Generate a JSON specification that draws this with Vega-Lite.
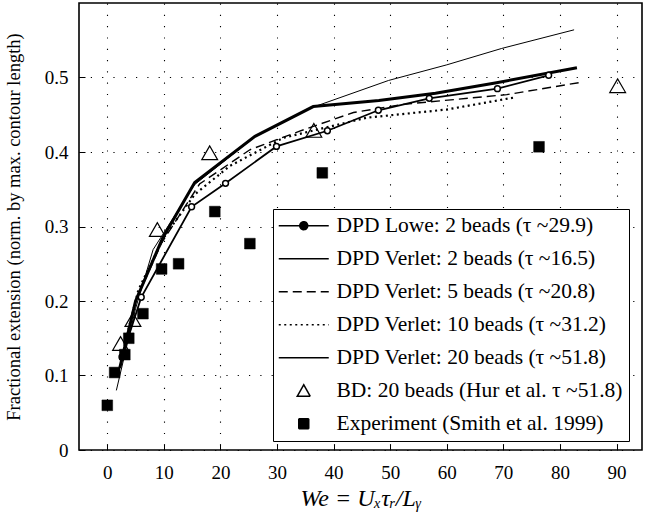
{
  "$schema": "https://vega.github.io/schema/vega-lite/v6.json",
  "width": 563,
  "height": 447,
  "autosize": "none",
  "padding": {"left": 79, "top": 3, "right": 8, "bottom": 65},
  "background": "white",
  "config": {
    "font": "Liberation Serif",
    "view": {"stroke": "black", "strokeWidth": 1.6}
  },
  "datasets": {
    "curves": [
      {"series": "DPD Lowe: 2 beads (τ ~29.9)", "x": 2.6, "y": 0.125},
      {"series": "DPD Lowe: 2 beads (τ ~29.9)", "x": 6.0, "y": 0.205},
      {"series": "DPD Lowe: 2 beads (τ ~29.9)", "x": 14.9, "y": 0.3265},
      {"series": "DPD Lowe: 2 beads (τ ~29.9)", "x": 20.9, "y": 0.358},
      {"series": "DPD Lowe: 2 beads (τ ~29.9)", "x": 29.9, "y": 0.4075},
      {"series": "DPD Lowe: 2 beads (τ ~29.9)", "x": 38.9, "y": 0.4285},
      {"series": "DPD Lowe: 2 beads (τ ~29.9)", "x": 47.9, "y": 0.456},
      {"series": "DPD Lowe: 2 beads (τ ~29.9)", "x": 56.9, "y": 0.472},
      {"series": "DPD Lowe: 2 beads (τ ~29.9)", "x": 68.95, "y": 0.485},
      {"series": "DPD Lowe: 2 beads (τ ~29.9)", "x": 78.0, "y": 0.503},
      {"series": "DPD Verlet: 2 beads (τ ~16.5)", "x": 1.6, "y": 0.08},
      {"series": "DPD Verlet: 2 beads (τ ~16.5)", "x": 5.0, "y": 0.19},
      {"series": "DPD Verlet: 2 beads (τ ~16.5)", "x": 8.1, "y": 0.269},
      {"series": "DPD Verlet: 2 beads (τ ~16.5)", "x": 15.4, "y": 0.356},
      {"series": "DPD Verlet: 2 beads (τ ~16.5)", "x": 26.0, "y": 0.42},
      {"series": "DPD Verlet: 2 beads (τ ~16.5)", "x": 36.3, "y": 0.46},
      {"series": "DPD Verlet: 2 beads (τ ~16.5)", "x": 49.7, "y": 0.496},
      {"series": "DPD Verlet: 2 beads (τ ~16.5)", "x": 60.0, "y": 0.517},
      {"series": "DPD Verlet: 2 beads (τ ~16.5)", "x": 69.7, "y": 0.539},
      {"series": "DPD Verlet: 2 beads (τ ~16.5)", "x": 82.5, "y": 0.564},
      {"series": "DPD Verlet: 5 beads (τ ~20.8)", "x": 2.4, "y": 0.115},
      {"series": "DPD Verlet: 5 beads (τ ~20.8)", "x": 5.0, "y": 0.2},
      {"series": "DPD Verlet: 5 beads (τ ~20.8)", "x": 9.6, "y": 0.278},
      {"series": "DPD Verlet: 5 beads (τ ~20.8)", "x": 16.3, "y": 0.357},
      {"series": "DPD Verlet: 5 beads (τ ~20.8)", "x": 25.2, "y": 0.403},
      {"series": "DPD Verlet: 5 beads (τ ~20.8)", "x": 34.0, "y": 0.428},
      {"series": "DPD Verlet: 5 beads (τ ~20.8)", "x": 43.5, "y": 0.453},
      {"series": "DPD Verlet: 5 beads (τ ~20.8)", "x": 52.3, "y": 0.464},
      {"series": "DPD Verlet: 5 beads (τ ~20.8)", "x": 70.6, "y": 0.477},
      {"series": "DPD Verlet: 5 beads (τ ~20.8)", "x": 83.3, "y": 0.493},
      {"series": "DPD Verlet: 10 beads (τ ~31.2)", "x": 3.0, "y": 0.14},
      {"series": "DPD Verlet: 10 beads (τ ~31.2)", "x": 5.5, "y": 0.215},
      {"series": "DPD Verlet: 10 beads (τ ~31.2)", "x": 10.1, "y": 0.287},
      {"series": "DPD Verlet: 10 beads (τ ~31.2)", "x": 15.45, "y": 0.343},
      {"series": "DPD Verlet: 10 beads (τ ~31.2)", "x": 21.6, "y": 0.381},
      {"series": "DPD Verlet: 10 beads (τ ~31.2)", "x": 31.1, "y": 0.419},
      {"series": "DPD Verlet: 10 beads (τ ~31.2)", "x": 45.8, "y": 0.446},
      {"series": "DPD Verlet: 10 beads (τ ~31.2)", "x": 60.0, "y": 0.457},
      {"series": "DPD Verlet: 10 beads (τ ~31.2)", "x": 71.8, "y": 0.473},
      {"series": "DPD Verlet: 20 beads (τ ~51.8)", "x": 2.2, "y": 0.11},
      {"series": "DPD Verlet: 20 beads (τ ~51.8)", "x": 5.0, "y": 0.2},
      {"series": "DPD Verlet: 20 beads (τ ~51.8)", "x": 9.75, "y": 0.284},
      {"series": "DPD Verlet: 20 beads (τ ~51.8)", "x": 15.45, "y": 0.359},
      {"series": "DPD Verlet: 20 beads (τ ~51.8)", "x": 26.1, "y": 0.421},
      {"series": "DPD Verlet: 20 beads (τ ~51.8)", "x": 36.4, "y": 0.461},
      {"series": "DPD Verlet: 20 beads (τ ~51.8)", "x": 48.0, "y": 0.469},
      {"series": "DPD Verlet: 20 beads (τ ~51.8)", "x": 58.0, "y": 0.479},
      {"series": "DPD Verlet: 20 beads (τ ~51.8)", "x": 68.8, "y": 0.493},
      {"series": "DPD Verlet: 20 beads (τ ~51.8)", "x": 83.0, "y": 0.513}
    ],
    "points": [
      {"series": "BD: 20 beads (Hur et al. τ ~51.8)", "x": 2.35, "y": 0.143},
      {"series": "BD: 20 beads (Hur et al. τ ~51.8)", "x": 4.53, "y": 0.175},
      {"series": "BD: 20 beads (Hur et al. τ ~51.8)", "x": 8.85, "y": 0.296},
      {"series": "BD: 20 beads (Hur et al. τ ~51.8)", "x": 18.1, "y": 0.399},
      {"series": "BD: 20 beads (Hur et al. τ ~51.8)", "x": 36.5, "y": 0.429},
      {"series": "BD: 20 beads (Hur et al. τ ~51.8)", "x": 90.2, "y": 0.489},
      {"series": "Experiment (Smith et al. 1999)", "x": 0.0, "y": 0.06},
      {"series": "Experiment (Smith et al. 1999)", "x": 1.3, "y": 0.104},
      {"series": "Experiment (Smith et al. 1999)", "x": 3.1, "y": 0.128},
      {"series": "Experiment (Smith et al. 1999)", "x": 3.8, "y": 0.15},
      {"series": "Experiment (Smith et al. 1999)", "x": 6.3, "y": 0.183},
      {"series": "Experiment (Smith et al. 1999)", "x": 9.6, "y": 0.243},
      {"series": "Experiment (Smith et al. 1999)", "x": 12.6, "y": 0.25},
      {"series": "Experiment (Smith et al. 1999)", "x": 19.0, "y": 0.32},
      {"series": "Experiment (Smith et al. 1999)", "x": 25.2, "y": 0.277},
      {"series": "Experiment (Smith et al. 1999)", "x": 38.0, "y": 0.372},
      {"series": "Experiment (Smith et al. 1999)", "x": 76.3, "y": 0.407}
    ]
  },
  "layer": [
    {
      "data": {"name": "curves"},
      "transform": [{"filter": "datum.series === 'DPD Verlet: 2 beads (τ ~16.5)'"}],
      "mark": {"type": "line", "color": "black", "strokeWidth": 1},
      "encoding": {
        "x": {
          "field": "x", "type": "quantitative",
          "scale": {"domain": [-5, 94.5], "nice": false, "zero": false},
          "axis": {
            "values": [0, 10, 20, 30, 40, 50, 60, 70, 80, 90],
            "domain": false,
            "grid": true,
            "gridColor": "black",
            "gridOpacity": 1,
            "gridWidth": 1.1,
            "gridDash": [1.2, 10.1],
            "tickColor": "black",
            "tickSize": -6,
            "labelFont": "Liberation Serif",
            "labelFontSize": 19,
            "labelColor": "black",
            "labelPadding": 19,
            "title": "We = Uₓτᵣ/Lᵧ",
            "titleFont": "Liberation Serif",
            "titleFontSize": 24,
            "titleFontStyle": "italic",
            "titleFontWeight": "normal",
            "titleColor": "black",
            "titlePadding": 4
          }
        },
        "y": {
          "field": "y", "type": "quantitative",
          "scale": {"domain": [0, 0.6], "nice": false, "zero": true},
          "axis": {
            "values": [0, 0.1, 0.2, 0.3, 0.4, 0.5],
            "format": ".1~f",
            "domain": false,
            "grid": true,
            "gridColor": "black",
            "gridOpacity": 1,
            "gridWidth": 1.1,
            "gridDash": [1.2, 10.1],
            "tickColor": "black",
            "tickSize": -6,
            "labelFont": "Liberation Serif",
            "labelFontSize": 19,
            "labelColor": "black",
            "labelPadding": 17,
            "title": "Fractional extension (norm. by max. contour length)",
            "titleFont": "Liberation Serif",
            "titleFontSize": 18.5,
            "titleFontWeight": "normal",
            "titleColor": "black",
            "titlePadding": 21
          }
        }
      }
    },
    {
      "data": {"name": "curves"},
      "transform": [{"filter": "datum.series === 'DPD Verlet: 5 beads (τ ~20.8)'"}],
      "mark": {"type": "line", "color": "black", "strokeWidth": 1.4, "strokeDash": [9, 5]},
      "encoding": {
        "x": {"field": "x", "type": "quantitative"},
        "y": {"field": "y", "type": "quantitative"}
      }
    },
    {
      "data": {"name": "curves"},
      "transform": [{"filter": "datum.series === 'DPD Verlet: 10 beads (τ ~31.2)'"}],
      "mark": {"type": "line", "color": "black", "strokeWidth": 2.2, "strokeDash": [2, 3.5]},
      "encoding": {
        "x": {"field": "x", "type": "quantitative"},
        "y": {"field": "y", "type": "quantitative"}
      }
    },
    {
      "data": {"name": "curves"},
      "transform": [{"filter": "datum.series === 'DPD Verlet: 20 beads (τ ~51.8)'"}],
      "mark": {"type": "line", "color": "black", "strokeWidth": 3},
      "encoding": {
        "x": {"field": "x", "type": "quantitative"},
        "y": {"field": "y", "type": "quantitative"}
      }
    },
    {
      "data": {"name": "curves"},
      "transform": [{"filter": "datum.series === 'DPD Lowe: 2 beads (τ ~29.9)'"}],
      "mark": {"type": "line", "color": "black", "strokeWidth": 1.8, "point": {"filled": true, "fill": "white", "stroke": "black", "strokeWidth": 1.5, "size": 34, "opacity": 1}},
      "encoding": {
        "x": {"field": "x", "type": "quantitative"},
        "y": {"field": "y", "type": "quantitative"}
      }
    },
    {
      "data": {"name": "points"},
      "transform": [{"filter": "datum.series === 'BD: 20 beads (Hur et al. τ ~51.8)'"}],
      "mark": {"type": "point", "shape": "triangle-up", "size": 250, "filled": false, "stroke": "black", "strokeWidth": 1.2, "opacity": 1},
      "encoding": {
        "x": {"field": "x", "type": "quantitative"},
        "y": {"field": "y", "type": "quantitative"}
      }
    },
    {
      "data": {"name": "points"},
      "transform": [{"filter": "datum.series === 'Experiment (Smith et al. 1999)'"}],
      "mark": {"type": "point", "shape": "square", "size": 115, "filled": true, "fill": "black", "stroke": "black", "strokeWidth": 0.5, "opacity": 1},
      "encoding": {
        "x": {"field": "x", "type": "quantitative"},
        "y": {"field": "y", "type": "quantitative"}
      }
    },
    {
      "data": {"name": "points"},
      "transform": [{"filter": "datum.x < -100"}],
      "mark": {"type": "point", "opacity": 1, "filled": true},
      "encoding": {
        "x": {"field": "x", "type": "quantitative"},
        "y": {"field": "y", "type": "quantitative"},
        "shape": {
          "field": "series", "type": "nominal",
          "scale": {
            "domain": ["DPD Lowe: 2 beads (τ ~29.9)", "DPD Verlet: 2 beads (τ ~16.5)", "DPD Verlet: 5 beads (τ ~20.8)", "DPD Verlet: 10 beads (τ ~31.2)", "DPD Verlet: 20 beads (τ ~51.8)", "BD: 20 beads (Hur et al. τ ~51.8)", "Experiment (Smith et al. 1999)"],
            "range": [
              "M-5,0H5M-0.8,0A0.8,0.8,0,1,0,0.8,0A0.8,0.8,0,1,0,-0.8,0",
              "M-5,0H5",
              "M-5,0H5",
              "M-5,0H5",
              "M-5,0H5",
              "M-1.3,1.1L1.3,1.1L0,-1.2Z",
              "M-1,-1H1V1H-1Z"
            ]
          },
          "legend": {
            "orient": "none", "legendX": 194, "legendY": 206, "title": null,
            "strokeColor": "black", "fillColor": "white", "padding": 6,
            "labelFont": "Liberation Serif", "labelFontSize": 21.5, "labelColor": "black", "labelLimit": 400,
            "symbolSize": 100, "symbolStrokeColor": "black", "symbolStrokeWidth": 1.5,
            "symbolOffset": 14, "labelOffset": 22, "rowPadding": 10
          }
        },
        "fill": {
          "field": "series", "type": "nominal",
          "scale": {
            "domain": ["DPD Lowe: 2 beads (τ ~29.9)", "DPD Verlet: 2 beads (τ ~16.5)", "DPD Verlet: 5 beads (τ ~20.8)", "DPD Verlet: 10 beads (τ ~31.2)", "DPD Verlet: 20 beads (τ ~51.8)", "BD: 20 beads (Hur et al. τ ~51.8)", "Experiment (Smith et al. 1999)"],
            "range": ["black", "transparent", "transparent", "transparent", "transparent", "white", "black"]
          },
          "legend": {
            "orient": "none", "legendX": 194, "legendY": 206, "title": null,
            "strokeColor": "black", "fillColor": "white", "padding": 6,
            "labelFont": "Liberation Serif", "labelFontSize": 21.5, "labelColor": "black", "labelLimit": 400,
            "symbolSize": 100, "symbolStrokeColor": "black", "symbolStrokeWidth": 1.5,
            "symbolOffset": 14, "labelOffset": 22, "rowPadding": 10
          }
        },
        "stroke": {
          "field": "series", "type": "nominal",
          "scale": {
            "domain": ["DPD Lowe: 2 beads (τ ~29.9)", "DPD Verlet: 2 beads (τ ~16.5)", "DPD Verlet: 5 beads (τ ~20.8)", "DPD Verlet: 10 beads (τ ~31.2)", "DPD Verlet: 20 beads (τ ~51.8)", "BD: 20 beads (Hur et al. τ ~51.8)", "Experiment (Smith et al. 1999)"],
            "range": ["black", "black", "black", "black", "black", "black", "black"]
          },
          "legend": {
            "orient": "none", "legendX": 194, "legendY": 206, "title": null,
            "strokeColor": "black", "fillColor": "white", "padding": 6,
            "labelFont": "Liberation Serif", "labelFontSize": 21.5, "labelColor": "black", "labelLimit": 400,
            "symbolSize": 100, "symbolStrokeColor": "black", "symbolStrokeWidth": 1.5,
            "symbolOffset": 14, "labelOffset": 22, "rowPadding": 10
          }
        },
        "strokeDash": {
          "field": "series", "type": "nominal",
          "scale": {
            "domain": ["DPD Lowe: 2 beads (τ ~29.9)", "DPD Verlet: 2 beads (τ ~16.5)", "DPD Verlet: 5 beads (τ ~20.8)", "DPD Verlet: 10 beads (τ ~31.2)", "DPD Verlet: 20 beads (τ ~51.8)", "BD: 20 beads (Hur et al. τ ~51.8)", "Experiment (Smith et al. 1999)"],
            "range": [[1, 0], [1, 0], [9, 5], [2, 3.5], [1, 0], [1, 0], [1, 0]]
          },
          "legend": {
            "orient": "none", "legendX": 194, "legendY": 206, "title": null,
            "strokeColor": "black", "fillColor": "white", "padding": 6,
            "labelFont": "Liberation Serif", "labelFontSize": 21.5, "labelColor": "black", "labelLimit": 400,
            "symbolSize": 100, "symbolStrokeColor": "black", "symbolStrokeWidth": 1.5,
            "symbolOffset": 14, "labelOffset": 22, "rowPadding": 10
          }
        }
      }
    }
  ]
}
